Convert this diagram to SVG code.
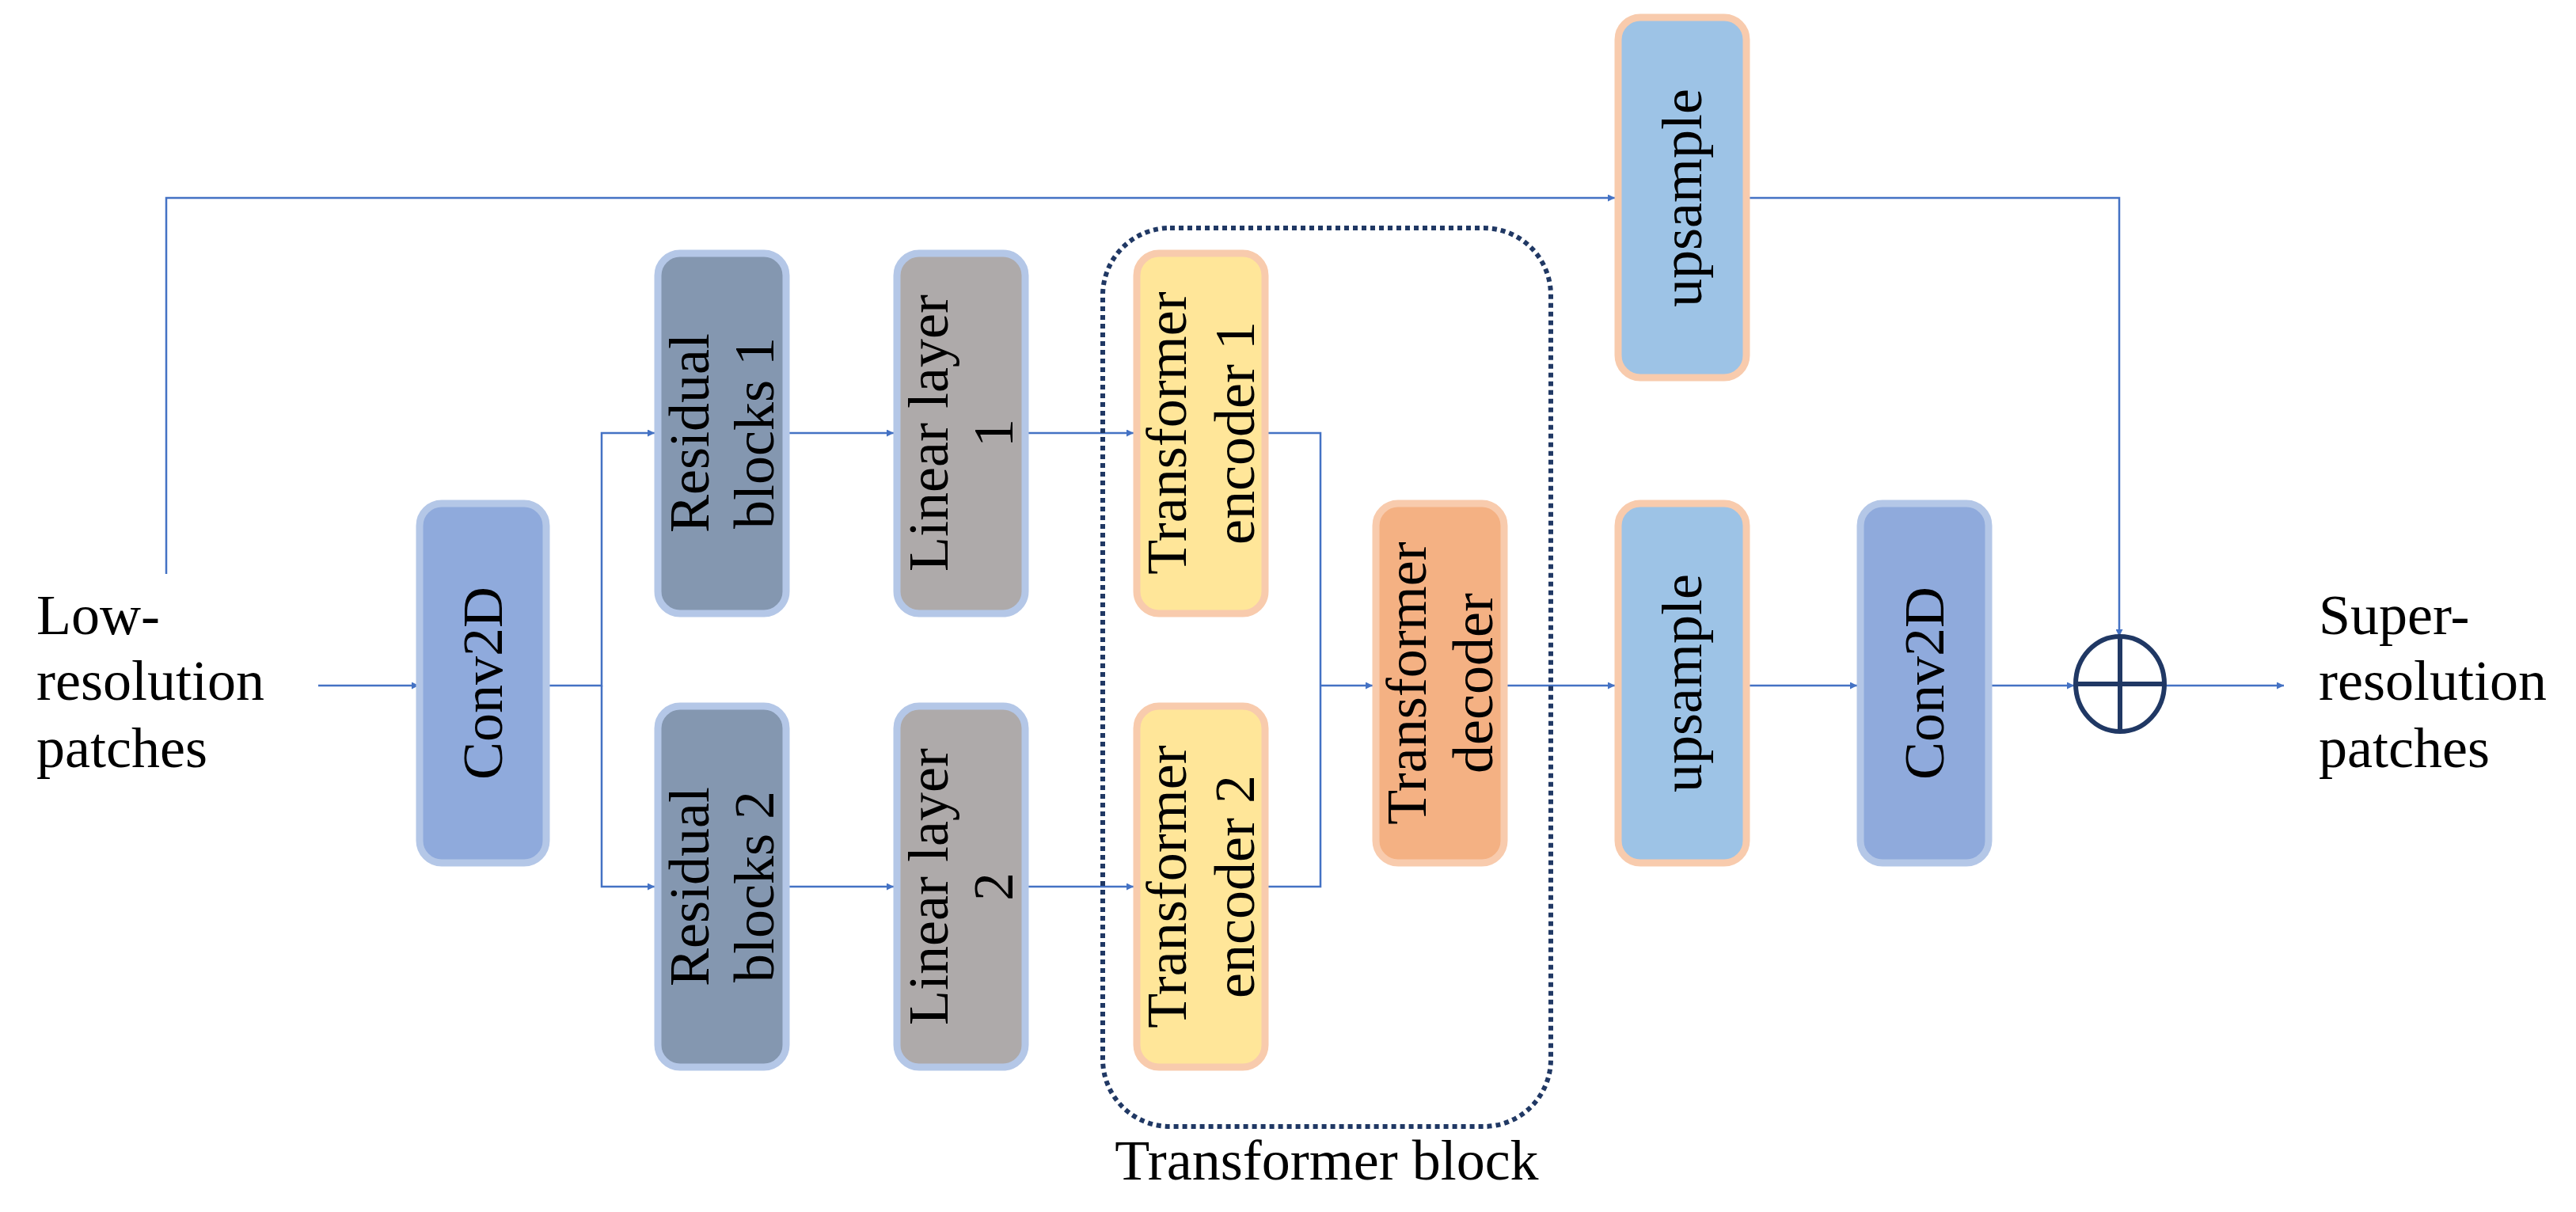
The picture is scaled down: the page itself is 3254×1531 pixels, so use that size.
<svg xmlns="http://www.w3.org/2000/svg" width="3254" height="1531" viewBox="0 0 3254 1531">
<style>
.n{stroke-width:9}
.t{font-family:"Liberation Serif","DejaVu Serif",serif;font-size:72px;fill:#000}
.c{fill:none;stroke:#4472C4;stroke-width:2.5}
.conv{fill:#8FAADC;stroke:#B4C7E7}
.res{fill:#8497B0;stroke:#B4C7E7}
.lin{fill:#AEAAAA;stroke:#B4C7E7}
.enc{fill:#FFE699;stroke:#F8CBAD}
.dec{fill:#F4B183;stroke:#F8CBAD}
.up{fill:#9DC3E6;stroke:#F8CBAD}
</style>
<defs>
<marker id="a" viewBox="0 0 10 10" refX="10" refY="5" markerWidth="9" markerHeight="9" markerUnits="userSpaceOnUse" orient="auto"><path d="M0,0L10,5L0,10z" fill="#4472C4"/></marker>
</defs>
<rect width="3254" height="1531" fill="#fff"/>
<g id="connectors">
<path class="c" d="M402,866H529" marker-end="url(#a)" style="marker-end:url(#a)"/>
<path class="c" d="M210,725V250H2040" marker-end="url(#a)"/>
<path class="c" d="M692,866H760V547H827" marker-end="url(#a)"/>
<path class="c" d="M760,866V1120H827" marker-end="url(#a)"/>
<path class="c" d="M995,547H1129" marker-end="url(#a)"/>
<path class="c" d="M995,1120H1129" marker-end="url(#a)"/>
<path class="c" d="M1297,547H1432" marker-end="url(#a)"/>
<path class="c" d="M1297,1120H1432" marker-end="url(#a)"/>
<path class="c" d="M1600,547H1668V1120H1600"/>
<path class="c" d="M1668,866H1734" marker-end="url(#a)"/>
<path class="c" d="M1902,866H2040" marker-end="url(#a)"/>
<path class="c" d="M2208,866H2346" marker-end="url(#a)"/>
<path class="c" d="M2514,866H2620" marker-end="url(#a)"/>
<path class="c" d="M2208,250H2677V804" marker-end="url(#a)"/>
<path class="c" d="M2736,866H2885" marker-end="url(#a)"/>
</g>
<g id="transformer-block">
<rect x="1393" y="288" width="566" height="1135" rx="85" fill="none" stroke="#203864" stroke-width="6" stroke-dasharray="6 5"/>
<text class="t" x="1676" y="1490" text-anchor="middle">Transformer block</text>
</g>
<g id="input"><text class="t"><tspan x="46" y="801">Low-</tspan><tspan x="46" y="884">resolution</tspan><tspan x="46" y="969">patches</tspan></text></g>
<g id="output"><text class="t"><tspan x="2929" y="801">Super-</tspan><tspan x="2929" y="884">resolution</tspan><tspan x="2929" y="969">patches</tspan></text></g>
<g id="conv1"><rect class="n conv" x="530" y="636" width="160" height="454" rx="28"/><text class="t" transform="translate(610,863) rotate(-90)" text-anchor="middle" dominant-baseline="central">Conv2D</text></g>
<g id="res1"><rect class="n res" x="831" y="320" width="162" height="455" rx="28"/><text class="t" transform="translate(912,547) rotate(-90)" text-anchor="middle" dominant-baseline="central"><tspan x="0" y="-41">Residual</tspan><tspan x="0" y="41">blocks 1</tspan></text></g>
<g id="res2"><rect class="n res" x="831" y="892" width="162" height="456" rx="28"/><text class="t" transform="translate(912,1120) rotate(-90)" text-anchor="middle" dominant-baseline="central"><tspan x="0" y="-41">Residual</tspan><tspan x="0" y="41">blocks 2</tspan></text></g>
<g id="lin1"><rect class="n lin" x="1133" y="320" width="162" height="455" rx="28"/><text class="t" transform="translate(1214,547) rotate(-90)" text-anchor="middle" dominant-baseline="central"><tspan x="0" y="-41">Linear layer</tspan><tspan x="0" y="41">1</tspan></text></g>
<g id="lin2"><rect class="n lin" x="1133" y="892" width="162" height="456" rx="28"/><text class="t" transform="translate(1214,1120) rotate(-90)" text-anchor="middle" dominant-baseline="central"><tspan x="0" y="-41">Linear layer</tspan><tspan x="0" y="41">2</tspan></text></g>
<g id="enc1"><rect class="n enc" x="1436" y="320" width="162" height="455" rx="28"/><text class="t" transform="translate(1517,547) rotate(-90)" text-anchor="middle" dominant-baseline="central"><tspan x="0" y="-43">Transformer</tspan><tspan x="0" y="43">encoder 1</tspan></text></g>
<g id="enc2"><rect class="n enc" x="1436" y="892" width="162" height="456" rx="28"/><text class="t" transform="translate(1517,1120) rotate(-90)" text-anchor="middle" dominant-baseline="central"><tspan x="0" y="-43">Transformer</tspan><tspan x="0" y="43">encoder 2</tspan></text></g>
<g id="dec"><rect class="n dec" x="1738" y="636" width="162" height="454" rx="28"/><text class="t" transform="translate(1819,863) rotate(-90)" text-anchor="middle" dominant-baseline="central"><tspan x="0" y="-42">Transformer</tspan><tspan x="0" y="42">decoder</tspan></text></g>
<g id="up1"><rect class="n up" x="2044" y="22" width="162" height="455" rx="28"/><text class="t" transform="translate(2125,250) rotate(-90)" text-anchor="middle" dominant-baseline="central">upsample</text></g>
<g id="up2"><rect class="n up" x="2044" y="636" width="162" height="454" rx="28"/><text class="t" transform="translate(2125,863) rotate(-90)" text-anchor="middle" dominant-baseline="central">upsample</text></g>
<g id="conv2"><rect class="n conv" x="2350" y="636" width="162" height="454" rx="28"/><text class="t" transform="translate(2431,863) rotate(-90)" text-anchor="middle" dominant-baseline="central">Conv2D</text></g>
<g id="sum"><ellipse cx="2678" cy="864" rx="56" ry="60" fill="none" stroke="#203864" stroke-width="6"/><path d="M2622,864H2734M2678,804V924" stroke="#203864" stroke-width="6"/></g>
</svg>
